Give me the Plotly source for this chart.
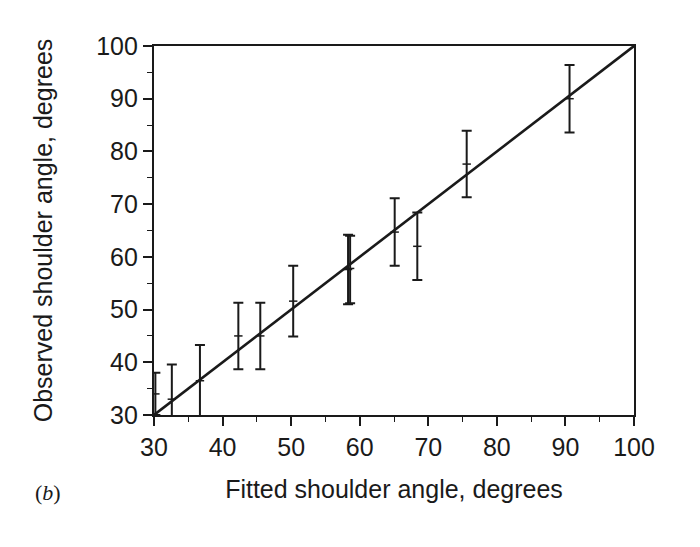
import plotly.graph_objects as go

# Data (fitted vs observed shoulder angle, degrees)
fitted = [30.2, 32.6, 36.7, 42.3, 45.5, 50.3, 58.3, 58.6, 65.1, 68.4, 75.6, 90.6]
observed = [34.0, 33.0, 36.5, 45.0, 45.0, 51.6, 57.6, 57.8, 64.7, 62.0, 77.6, 90.0]
err_plus = [4.0, 6.6, 6.8, 6.3, 6.3, 6.7, 6.6, 6.2, 6.4, 6.4, 6.3, 6.4]
err_minus = [4.0, 6.6, 6.8, 6.3, 6.3, 6.7, 6.6, 6.6, 6.4, 6.4, 6.3, 6.4]
line_x = [30, 100]
line_y = [30, 100]

x_ticks = [30, 40, 50, 60, 70, 80, 90, 100]
y_ticks = [30, 40, 50, 60, 70, 80, 90, 100]

FONT = "Liberation Sans, Arial, Helvetica, sans-serif"
INK = "#1a1a1a"

fig = go.Figure()

fig.add_trace(go.Scatter(
    x=fitted, y=observed, mode="markers",
    marker=dict(symbol="line-ew", size=6, line=dict(width=1.5, color=INK), color=INK),
    error_y=dict(type="data", symmetric=False, array=err_plus, arrayminus=err_minus,
                 color=INK, thickness=2, width=5),
    showlegend=False, hoverinfo="skip",
))

fig.add_trace(go.Scatter(
    x=line_x, y=line_y, mode="lines",
    line=dict(color=INK, width=2.6),
    showlegend=False, hoverinfo="skip",
))

axis_common = dict(
    showgrid=False, zeroline=False,
    showline=True, linecolor=INK, linewidth=2.2, mirror=True,
    ticks="outside", ticklen=9, tickwidth=1.6, tickcolor=INK,
    minor=dict(ticks="outside", ticklen=5, tickwidth=1.4, tickcolor=INK, dtick=5, showgrid=False),
    tickfont=dict(family=FONT, size=25, color=INK),
    range=[30, 100], dtick=10,
)

fig.update_xaxes(
    **axis_common,
    tickvals=x_ticks,
    title=dict(text="Fitted shoulder angle, degrees", font=dict(family=FONT, size=25, color=INK), standoff=20),
)
fig.update_yaxes(
    **axis_common,
    tickvals=y_ticks,
    title=dict(text="Observed shoulder angle, degrees", font=dict(family=FONT, size=25, color=INK), standoff=36),
)

fig.add_annotation(
    text="(<i>b</i>)", xref="paper", yref="paper", x=-0.22, y=-0.209,
    showarrow=False, xanchor="center", yanchor="middle",
    font=dict(family="Liberation Serif, Times New Roman, serif", size=22, color=INK),
)

fig.update_layout(
    width=700, height=547,
    margin=dict(l=154, r=66, t=46, b=132),
    paper_bgcolor="white", plot_bgcolor="white",
)

fig.write_html("out.html")
